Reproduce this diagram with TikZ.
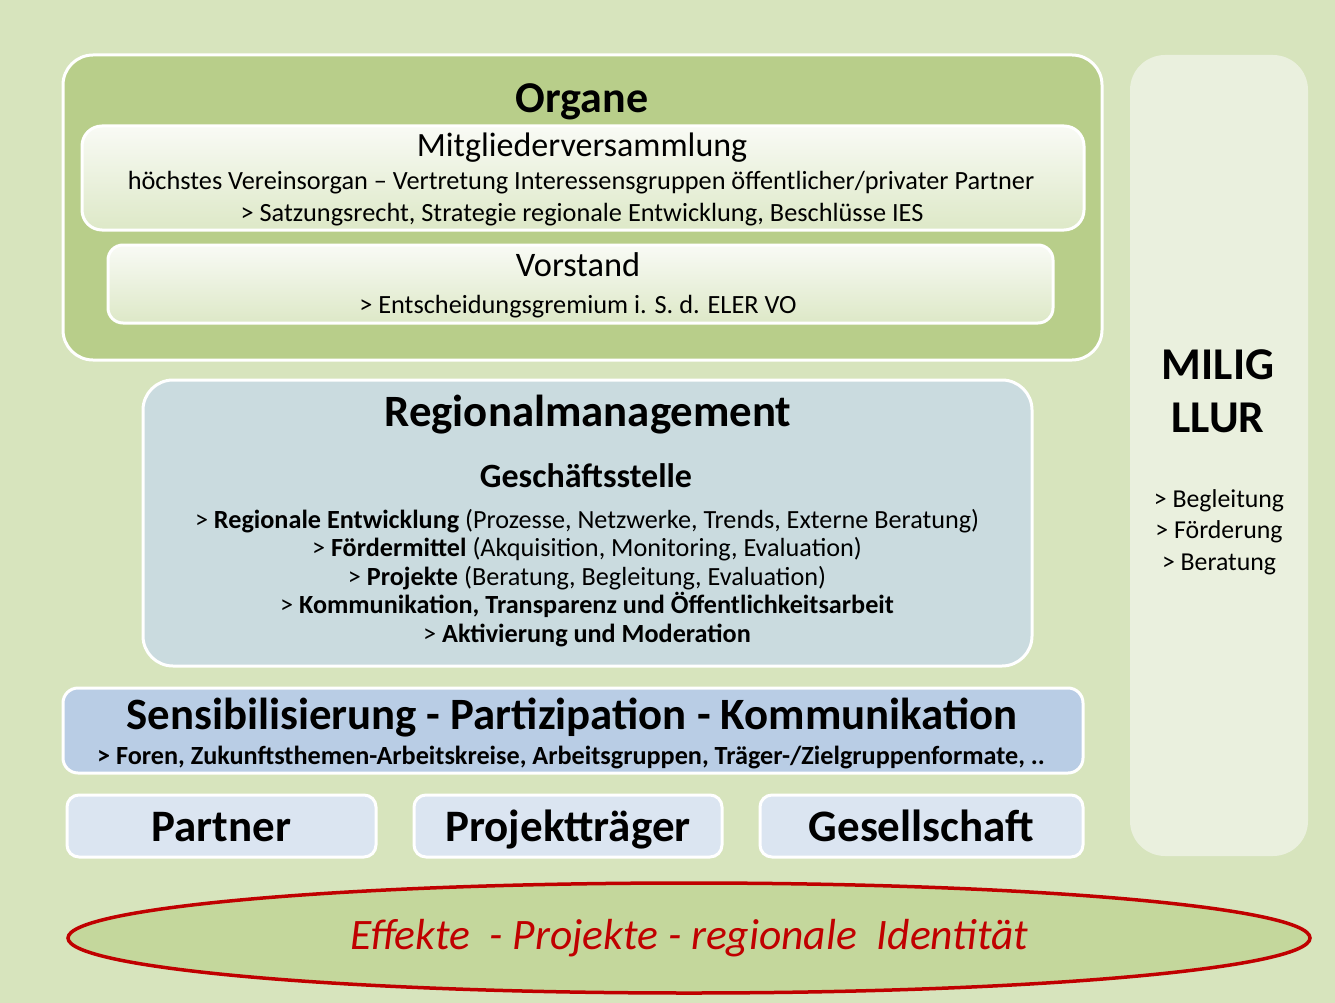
\documentclass[tikz,border=0pt]{standalone}
\usepackage{fontspec}
\setmainfont{Carlito}
\usetikzlibrary{shapes.geometric, positioning}

\definecolor{bgcol}{HTML}{D7E4BD}
\definecolor{organcol}{HTML}{B8CE8A}
\definecolor{miligcol}{HTML}{EAF0DE}
\definecolor{regiocol}{HTML}{CADBDF}
\definecolor{senscol}{HTML}{B9CDE5}
\definecolor{smallcol}{HTML}{DBE5F1}
\definecolor{ellcol}{HTML}{C4D79C}
\definecolor{redcol}{HTML}{C00000}
\newcommand{\fsz}[2]{\fontsize{#1}{#2}\selectfont}

\begin{document}
\begin{tikzpicture}[x=1pt, y=-1pt,
  box/.style={draw=white, line width=3pt, rounded corners=#1, inner sep=0pt},
  paler/.style={top color=white!70!miligcol, bottom color=bgcol!85!white},
  txt/.style={inner sep=0pt, align=center},
  small/.style={box=12pt, fill=smallcol, minimum height=62pt, text height=35pt, text depth=5pt,
    font=\fsz{45}{52}\bfseries}]

\useasboundingbox (0,0) rectangle (1335,1003);
\fill[bgcol] (0,0) rectangle (1335,1003);

% Organe
\node[box=30pt, fill=organcol, minimum width=1039pt, minimum height=305pt] (organe) at (582.5,207.5) {};
\node[txt, font=\fsz{44}{50}\bfseries] (otitle) at (582,102) {Organe};
\node[box=20pt, paler, minimum width=1002pt, minimum height=104pt] (mitglieder) at (583,178) {};
\node[txt, font=\fsz{34}{38}] (mtitle) at (582,148) {Mitgliederversammlung};
\node[txt, font=\fsz{26.3}{30}] (m1) at (581,183) {höchstes Vereinsorgan – Vertretung Interessensgruppen öffentlicher/privater Partner};
\node[txt, font=\fsz{26.3}{30}] (m2) at (582,215) {> Satzungsrecht, Strategie regionale Entwicklung, Beschlüsse IES};
\node[box=15pt, paler, minimum width=945pt, minimum height=78pt] (vorstand) at (580.5,284) {};
\node[txt, font=\fsz{34.4}{38}] (vtitle) at (578,265) {Vorstand};
\node[txt, font=\fsz{26.3}{30}] (v1) at (578,307) {> Entscheidungsgremium i. S. d. ELER VO};

% Regionalmanagement
\node[box=30pt, fill=regiocol, minimum width=889pt, minimum height=286pt] (regio) at (587.5,523) {};
\node[txt, font=\fsz{44.8}{50}\bfseries] (rtitle) at (588,415) {Regionalmanagement};
\node[txt, font=\fsz{34}{38}\bfseries] (gst) at (586,476) {Geschäftsstelle};
\node[txt, font=\fsz{26.2}{28.4}] (rlist) at (587,578) {%
  > \textbf{Regionale Entwicklung} (Prozesse, Netzwerke, Trends, Externe Beratung)\\
  > \textbf{Fördermittel} (Akquisition, Monitoring, Evaluation)\\
  > \textbf{Projekte} (Beratung, Begleitung, Evaluation)\\
  > \textbf{Kommunikation, Transparenz und Öffentlichkeitsarbeit}\\
  > \textbf{Aktivierung und Moderation}};

% Sensibilisierung
\node[box=15pt, fill=senscol, minimum width=1020pt, minimum height=85pt] (sens) at (573,730.5) {};
\node[txt, font=\fsz{44.8}{50}\bfseries] (stitle) at (572,718) {Sensibilisierung - Partizipation - Kommunikation};
\node[txt, font=\fsz{26.2}{30}\bfseries] (s1) at (571,758) {> Foren, Zukunftsthemen-Arbeitskreise, Arbeitsgruppen, Träger-/Zielgruppenformate, ..};

% Akteure
\node[small, minimum width=309pt] (partner) at (221.5,826) {Partner};
\node[small, minimum width=308pt, right=35pt of partner] (traeger) {Projektträger};
\node[small, minimum width=323pt, right=35pt of traeger] (gesell) {Gesellschaft};

% MILIG
\node[rounded corners=35pt, fill=miligcol, minimum width=178pt, minimum height=801pt] (milig) at (1219,455.5) {};
\node[txt, font=\fsz{45.5}{53}\bfseries] (mtop) at (1218,391) {MILIG\\LLUR};
\node[txt, font=\fsz{25.8}{31.5}] (mlist) at (1219,532) {> Begleitung\\> Förderung\\> Beratung};

% Effekte
\node[ellipse, draw=redcol, line width=3.5pt, fill=ellcol, minimum width=1242pt, minimum height=110pt,
  font=\fsz{43.5}{50}\itshape, text=redcol] (effekte) at (689,938) {Effekte~ - Projekte - regionale~ Identität};
\end{tikzpicture}
\end{document}
